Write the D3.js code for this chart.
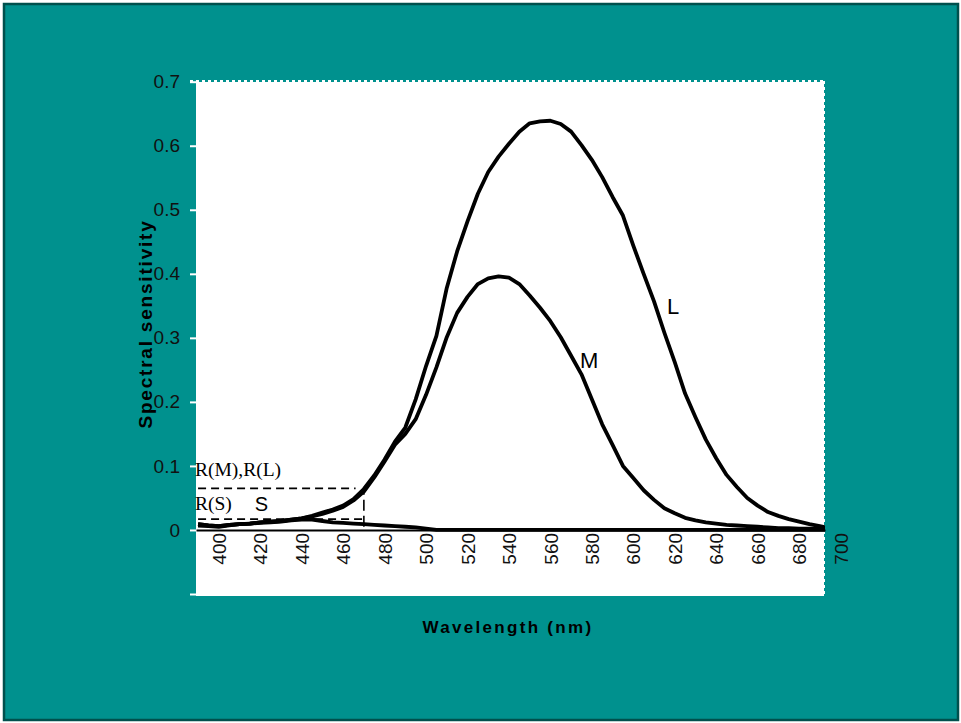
<!DOCTYPE html>
<meta charset="utf-8">
<body style="margin:0; background:#fff">
    <div id="chart"></div>
</body>
<script src="https://cdn.jsdelivr.net/npm/d3@7/dist/d3.min.js"></script>
<script>
    var svg_width = 961,
        svg_height = 723;

    // wavelengths (nm) sampled every 5 nm
    var wavelengths = [390, 395, 400, 405, 410, 415, 420, 425, 430, 435,
        440, 445, 450, 455, 460, 465, 470, 475, 480, 485,
        490, 495, 500, 505, 510, 515, 520, 525, 530, 535,
        540, 545, 550, 555, 560, 565, 570, 575, 580, 585,
        590, 595, 600, 605, 610, 615, 620, 625, 630, 635,
        640, 645, 650, 655, 660, 665, 670, 675, 680, 685,
        690, 695];

    var L_values = [.009, .007, .006, .008, .009, .010, .012, .013, .014, .016,
        .018, .022, .027, .032, .038, .048, .064, .085, .110, .138,
        .160, .204, .256, .303, .378, .435, .482, .525, .559, .583,
        .603, .622, .635, .638, .639, .634, .622, .601, .578, .551,
        .520, .491, .444, .400, .357, .308, .262, .213, .176, .141,
        .112, .086, .067, .050, .038, .028, .022, .017, .013, .009,
        .006, .003];

    var M_values = [.009, .007, .006, .008, .009, .010, .012, .013, .014, .016,
        .018, .021, .025, .030, .036, .046, .060, .082, .107, .133,
        .150, .173, .211, .254, .301, .339, .364, .384, .393, .396,
        .394, .384, .366, .347, .326, .301, .272, .243, .204, .165,
        .133, .100, .081, .062, .047, .034, .026, .019, .015, .012,
        .010, .008, .007, .006, .005, .004, .003, .003, .002, .002,
        .002, .001];

    var S_values = [.007, .006, .005, .007, .009, .010, .011, .012, .013, .015,
        .016, .016, .014, .012, .011, .010, .009, .008, .007, .006,
        .005, .004, .002, 0, 0, 0, 0, 0, 0, 0,
        0, 0, 0, 0, 0, 0, 0, 0, 0, 0,
        0, 0, 0, 0, 0, 0, 0, 0, 0, 0,
        0, 0, 0, 0, 0, 0, 0, 0, 0, 0,
        0, 0];

    var x_ticks = [400, 420, 440, 460, 480, 500, 520, 540, 560, 580, 600, 620, 640, 660, 680, 700];
    var y_ticks = [-0.1, 0, 0.1, 0.2, 0.3, 0.4, 0.5, 0.6, 0.7];
    var y_tick_labels = ["", "0", "0.1", "0.2", "0.3", "0.4", "0.5", "0.6", "0.7"];

    // curve labels, placed in data units (nm, sensitivity)
    var curve_labels = [
        {text: "L", nm: 616.3, v: 0.337, size: 22},
        {text: "M", nm: 574.3, v: 0.253, size: 22},
        {text: "S", nm: 417.3, v: 0.029, size: 20}
    ];
    // response levels at the 470 nm cut-off
    var r_cutoff = 470;
    var r_levels = [
        {text: "R(M),R(L)", v: 0.065, end: 466, label_v: 0.085},
        {text: "R(S)", v: 0.017, end: 470, label_v: 0.031}
    ];

    var plot = {left: 196, right: 824, top: 82, bottom: 596};

    var x = d3.scaleLinear().domain([389, 692.5]).range([196, 825]);
    var y = d3.scaleLinear().domain([-0.1, 0.7]).range([594, 81.7]);

    var svg = d3.select("#chart").append("svg")
        .attr("width", svg_width)
        .attr("height", svg_height)
        .style("display", "block");

    // teal slide background with dark frame
    svg.append("rect")
        .attr("x", 4).attr("y", 4)
        .attr("width", 954).attr("height", 716)
        .style("fill", "#00918e")
        .style("stroke", "#00504d")
        .style("stroke-width", 2.5);

    svg.append("rect")
        .attr("x", plot.left).attr("y", plot.top)
        .attr("width", plot.right - plot.left)
        .attr("height", plot.bottom - plot.top)
        .style("fill", "#fff");

    // dotted edges top and right
    svg.append("line")
        .attr("x1", plot.left - 6).attr("x2", plot.right + 1)
        .attr("y1", plot.top - 1).attr("y2", plot.top - 1)
        .style("stroke", "#fff").style("stroke-width", 2)
        .style("stroke-dasharray", "3,3");
    svg.append("line")
        .attr("x1", plot.right).attr("x2", plot.right)
        .attr("y1", plot.top - 1).attr("y2", plot.bottom)
        .style("stroke", "#fff").style("stroke-width", 2)
        .style("stroke-dasharray", "3,3");

    svg.append("clipPath").attr("id", "plot_clip")
        .append("rect")
        .attr("x", plot.left).attr("y", plot.top)
        .attr("width", plot.right - plot.left + 1)
        .attr("height", plot.bottom - plot.top);

    // y axis
    var y_axis = svg.append("g")
        .attr("transform", "translate(" + plot.left + ",0)")
        .call(d3.axisLeft(y)
            .tickValues(y_ticks)
            .tickFormat(function(d, i) { return y_tick_labels[i]; })
            .tickSize(6)
            .tickPadding(10));
    y_axis.select(".domain").remove();
    y_axis.selectAll("line").style("stroke", "#fff").style("stroke-width", 2);
    y_axis.selectAll("text")
        .style("font-family", "'Liberation Sans', Arial, sans-serif")
        .style("font-size", "19px")
        .style("fill", "#111");

    // x axis along zero
    var x_axis = svg.append("g")
        .attr("transform", "translate(0," + y(0) + ")")
        .call(d3.axisBottom(x)
            .tickValues(x_ticks)
            .tickSize(0)
            .tickSizeOuter(0));
    x_axis.select(".domain").style("stroke", "#000").style("stroke-width", 2);
    x_axis.selectAll("text")
        .attr("transform", "rotate(-90)")
        .attr("y", 0)
        .attr("x", -3)
        .attr("dy", "0.35em")
        .style("text-anchor", "end")
        .style("font-family", "'Liberation Sans', Arial, sans-serif")
        .style("font-size", "19px")
        .style("fill", "#111");

    // dashed response levels
    var dash = svg.append("g")
        .style("stroke", "#000")
        .style("stroke-width", 1.6)
        .style("fill", "none");
    dash.selectAll("line.level")
        .data(r_levels)
        .enter()
            .append("line")
            .attr("class", "level")
            .attr("x1", x(390))
            .attr("x2", function(d) { return x(d.end); })
            .attr("y1", function(d) { return y(d.v); })
            .attr("y2", function(d) { return y(d.v); })
            .style("stroke-dasharray", "8,5");
    dash.append("line")
        .attr("x1", x(r_cutoff)).attr("x2", x(r_cutoff))
        .attr("y1", y(0.005)).attr("y2", y(r_levels[0].v))
        .style("stroke-dasharray", "11,5");

    svg.selectAll("text.rlabel")
        .data(r_levels)
        .enter()
            .append("text")
            .attr("class", "rlabel")
            .attr("x", x(388.5))
            .attr("y", function(d) { return y(d.label_v); })
            .text(function(d) { return d.text; })
            .style("font-family", "'Liberation Serif', 'Times New Roman', serif")
            .style("font-size", "19.5px")
            .style("fill", "#000");

    // the three cone curves
    var line = d3.line()
        .x(function(d) { return x(d[0]); })
        .y(function(d) { return y(d[1]); });

    var series = [L_values, M_values, S_values].map(function(vals) {
        return wavelengths.map(function(w, i) { return [w, vals[i]]; });
    });

    svg.append("g")
        .attr("clip-path", "url(#plot_clip)")
        .selectAll("path")
        .data(series)
        .enter()
            .append("path")
            .attr("d", line)
            .style("fill", "none")
            .style("stroke", "#000")
            .style("stroke-width", 3.8)
            .style("stroke-linejoin", "round");

    svg.selectAll("text.curve")
        .data(curve_labels)
        .enter()
            .append("text")
            .attr("class", "curve")
            .attr("x", function(d) { return x(d.nm); })
            .attr("y", function(d) { return y(d.v); })
            .text(function(d) { return d.text; })
            .style("font-family", "'Liberation Sans', Arial, sans-serif")
            .style("font-size", function(d) { return d.size + "px"; })
            .style("fill", "#000");

    // axis titles
    svg.append("text")
        .attr("x", 508)
        .attr("y", 633)
        .attr("text-anchor", "middle")
        .text("Wavelength (nm)")
        .style("font-family", "'Liberation Sans', Arial, sans-serif")
        .style("font-weight", "bold")
        .style("font-size", "17px")
        .style("letter-spacing", "2.3px")
        .style("fill", "#000");

    svg.append("text")
        .attr("transform", "translate(152,324) rotate(-90)")
        .attr("text-anchor", "middle")
        .text("Spectral sensitivity")
        .style("font-family", "'Liberation Sans', Arial, sans-serif")
        .style("font-weight", "bold")
        .style("font-size", "19px")
        .style("letter-spacing", "1.8px")
        .style("fill", "#000");
</script>
